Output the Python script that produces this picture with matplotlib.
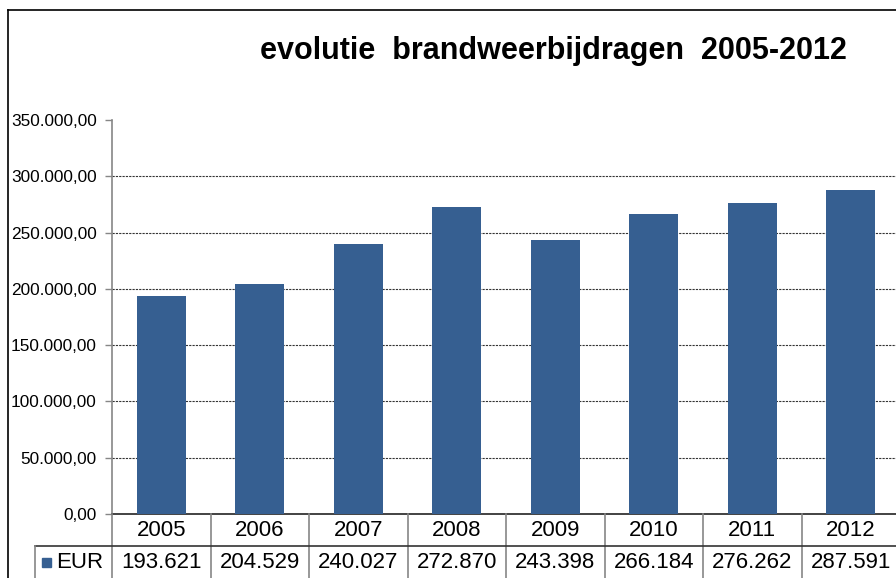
import matplotlib
matplotlib.use("Agg")
import matplotlib.pyplot as plt
import matplotlib.transforms as mtransforms
from matplotlib.lines import Line2D
from matplotlib.patches import Rectangle

jaren = ["2005", "2006", "2007", "2008", "2009", "2010", "2011", "2012"]
eur = [193621, 204529, 240027, 272870, 243398, 266184, 276262, 287591]
y_ticks = [0, 50000, 100000, 150000, 200000, 250000, 300000, 350000]

W, H = 896, 578
bar_kleur = "#365F91"
lijn_kleur = "#868686"

plt.rcParams['font.family'] = ['Liberation Sans', 'DejaVu Sans']


def nl(v, dec=2):
    s = f"{v:,.{dec}f}"
    return s.replace(",", "X").replace(".", ",").replace("X", ".")


def fx(px):
    return px / W


def fy(py):
    return 1 - py / H


fig = plt.figure(figsize=(W / 100, H / 100), dpi=100)
ax = fig.add_axes([fx(112), fy(514), fx(900 - 112), fy(120) - fy(514)])

x = list(range(len(jaren)))
ax.bar(x, eur, width=0.5, color=bar_kleur, zorder=3)
ax.set_xlim(-0.5, len(jaren) - 0.5)
ax.set_ylim(0, 350000)
ax.set_yticks(y_ticks)
ax.set_yticklabels([nl(v) for v in y_ticks], fontsize=12.4)
ax.tick_params(axis='y', direction='out', length=5, width=1, color=lijn_kleur, pad=6)
ax.set_xticks([])

# rasterlijnen (niet op 350.000)
for v in y_ticks[1:-1]:
    ax.axhline(v, color="#333333", lw=0.8, ls=(0, (2, 1)), zorder=1)

for s in ["top", "right"]:
    ax.spines[s].set_visible(False)
ax.spines["left"].set_color(lijn_kleur)
ax.spines["bottom"].set_color("#222222")
ax.spines["left"].set_linewidth(1.2)
ax.spines["bottom"].set_linewidth(1.2)

# gegevenstabel
tr = mtransforms.blended_transform_factory(ax.transData, fig.transFigure)
for i in range(len(jaren) + 1):
    fig.add_artist(Line2D([i - 0.5, i - 0.5], [fy(514), 0], transform=tr,
                          color=lijn_kleur, lw=1.2))
for i, (j, v) in enumerate(zip(jaren, eur)):
    fig.text(i, fy(531), j, transform=tr, ha="center", va="center", fontsize=16)
    fig.text(i, fy(563), nl(v, 0), transform=tr, ha="center", va="center", fontsize=16)

fig.add_artist(Line2D([fx(35), 1], [fy(546), fy(546)], transform=fig.transFigure,
                      color="#333333", lw=1.2))
fig.add_artist(Line2D([fx(35), fx(35)], [fy(546), 0], transform=fig.transFigure,
                      color=lijn_kleur, lw=1.2))
fig.add_artist(Rectangle((fx(42), fy(567)), fx(9), fy(558) - fy(567),
                         transform=fig.transFigure, color=bar_kleur))
fig.text(fx(56), fy(563), "EUR", ha="left", va="center", fontsize=16)

# kader
fig.add_artist(Line2D([fx(8), 1], [fy(10), fy(10)], transform=fig.transFigure,
                      color="black", lw=1.2))
fig.add_artist(Line2D([fx(8), fx(8)], [fy(10), 0], transform=fig.transFigure,
                      color="black", lw=1.2))

fig.text(fx(553), fy(51), "evolutie  brandweerbijdragen  2005-2012", ha="center",
         va="center", fontsize=22, fontweight="bold")

fig.savefig("out.png", dpi=100)
